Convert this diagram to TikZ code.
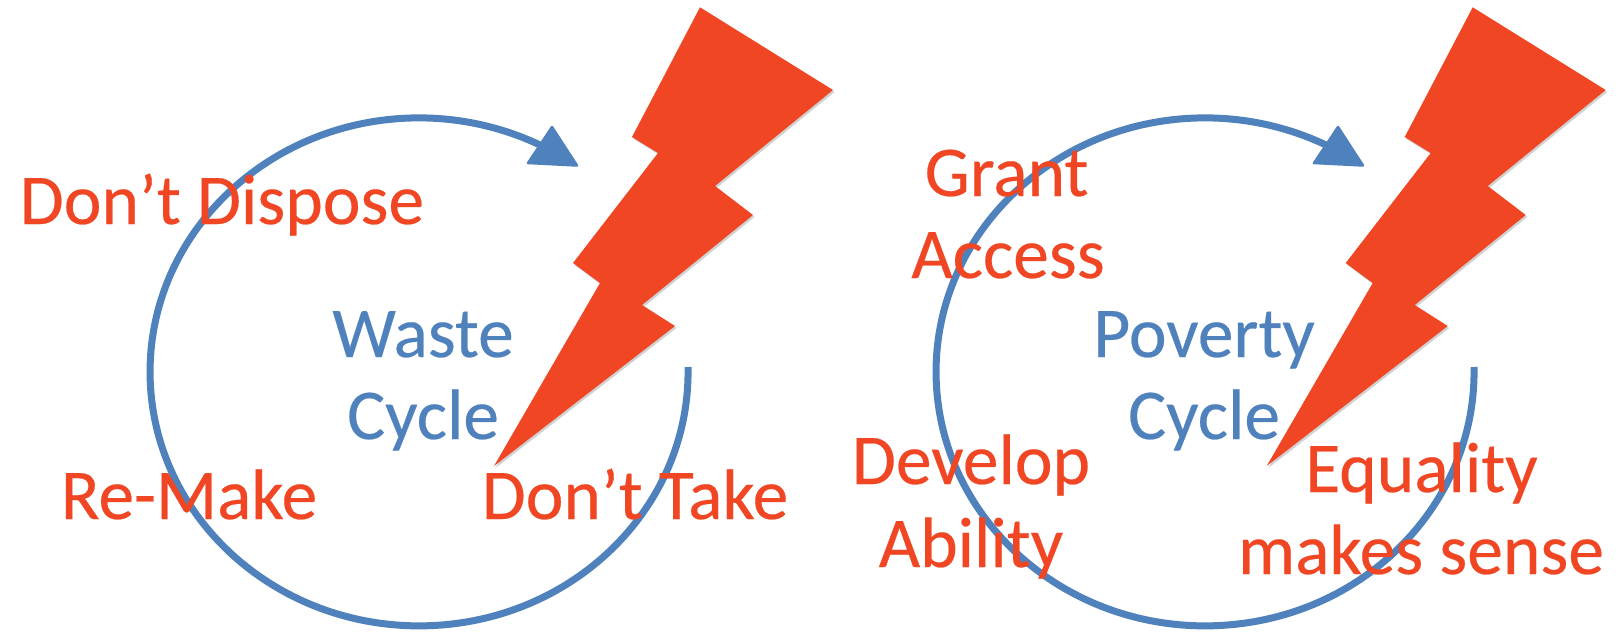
\documentclass[tikz,border=0pt]{standalone}
\usepackage{fontspec}
\setmainfont[FakeBold=0.3]{Carlito}
\definecolor{boltred}{HTML}{F04623}
\definecolor{cycleblue}{HTML}{4F81BD}
\tikzset{
  redtext/.style={text=boltred,font=\fontsize{71.5}{80}\selectfont,anchor=base,inner sep=0pt},
  bluetext/.style={text=cycleblue,font=\fontsize{71.5}{80}\selectfont,anchor=base,inner sep=0pt},
  cyclearc/.style={draw=cycleblue,line width=7pt},
  cyclehead/.style={fill=cycleblue,draw=cycleblue,line width=2.5pt,line join=round},
  boltshape/.style={fill=boltred},
  boltshadow/.style={fill=black,opacity=.18}
}
\newcommand{\boltpath}{(700,7.3) -- (833,90) -- (715,186) -- (753,215) -- (642,305) -- (675,326) -- (494,466) -- (600,283) -- (573,263) -- (658,153) -- (632,137) -- cycle}
\begin{document}
\begin{tikzpicture}[x=1pt,y=-1pt]
\useasboundingbox (0,0) rectangle (1621,635);
\fill[white] (0,0) rectangle (1621,635);
% left cycle
\draw[cyclearc] (688,367) arc[start angle=1.1,end angle=-296.7,x radius=269pt,y radius=254pt];
\draw[cyclehead] (552,127) -- (528,163) -- (577,165.5) -- cycle;
% right cycle
\begin{scope}[xshift=786pt]
\draw[cyclearc] (688,367) arc[start angle=1.1,end angle=-296.7,x radius=269pt,y radius=254pt];
\draw[cyclehead] (552,127) -- (528,163) -- (577,165.5) -- cycle;
\end{scope}
% texts
\node[bluetext] (waste) at (423,357) {Waste};
\node[bluetext] (cyclea) at (423,439) {Cycle};
\node[bluetext] (poverty) at (1204,357) {Poverty};
\node[bluetext] (cycleb) at (1204,439) {Cycle};
% bolts
\fill[boltshadow] [shift={(1.5pt,-2pt)}] \boltpath;
\fill[boltshape] \boltpath;
\begin{scope}[xshift=772.7pt]
\fill[boltshadow] [shift={(1.5pt,-2pt)}] \boltpath;
\fill[boltshape] \boltpath;
\end{scope}
\node[redtext] (dispose) at (222,224) {Don’t Dispose};
\node[redtext] (remake) at (189,519) {Re-Make};
\node[redtext] (take) at (635,519) {Don’t Take};
\node[redtext] (grant) at (1006.5,196) {Grant};
\node[redtext] (access) at (1008,278) {Access};
\node[redtext] (develop) at (971,484) {Develop};
\node[redtext] (ability) at (971,567) {Ability};
\node[redtext] (equality) at (1421.5,492) {Equality};
\node[redtext] (sense) at (1421,574) {makes sense};
\end{tikzpicture}
\end{document}
